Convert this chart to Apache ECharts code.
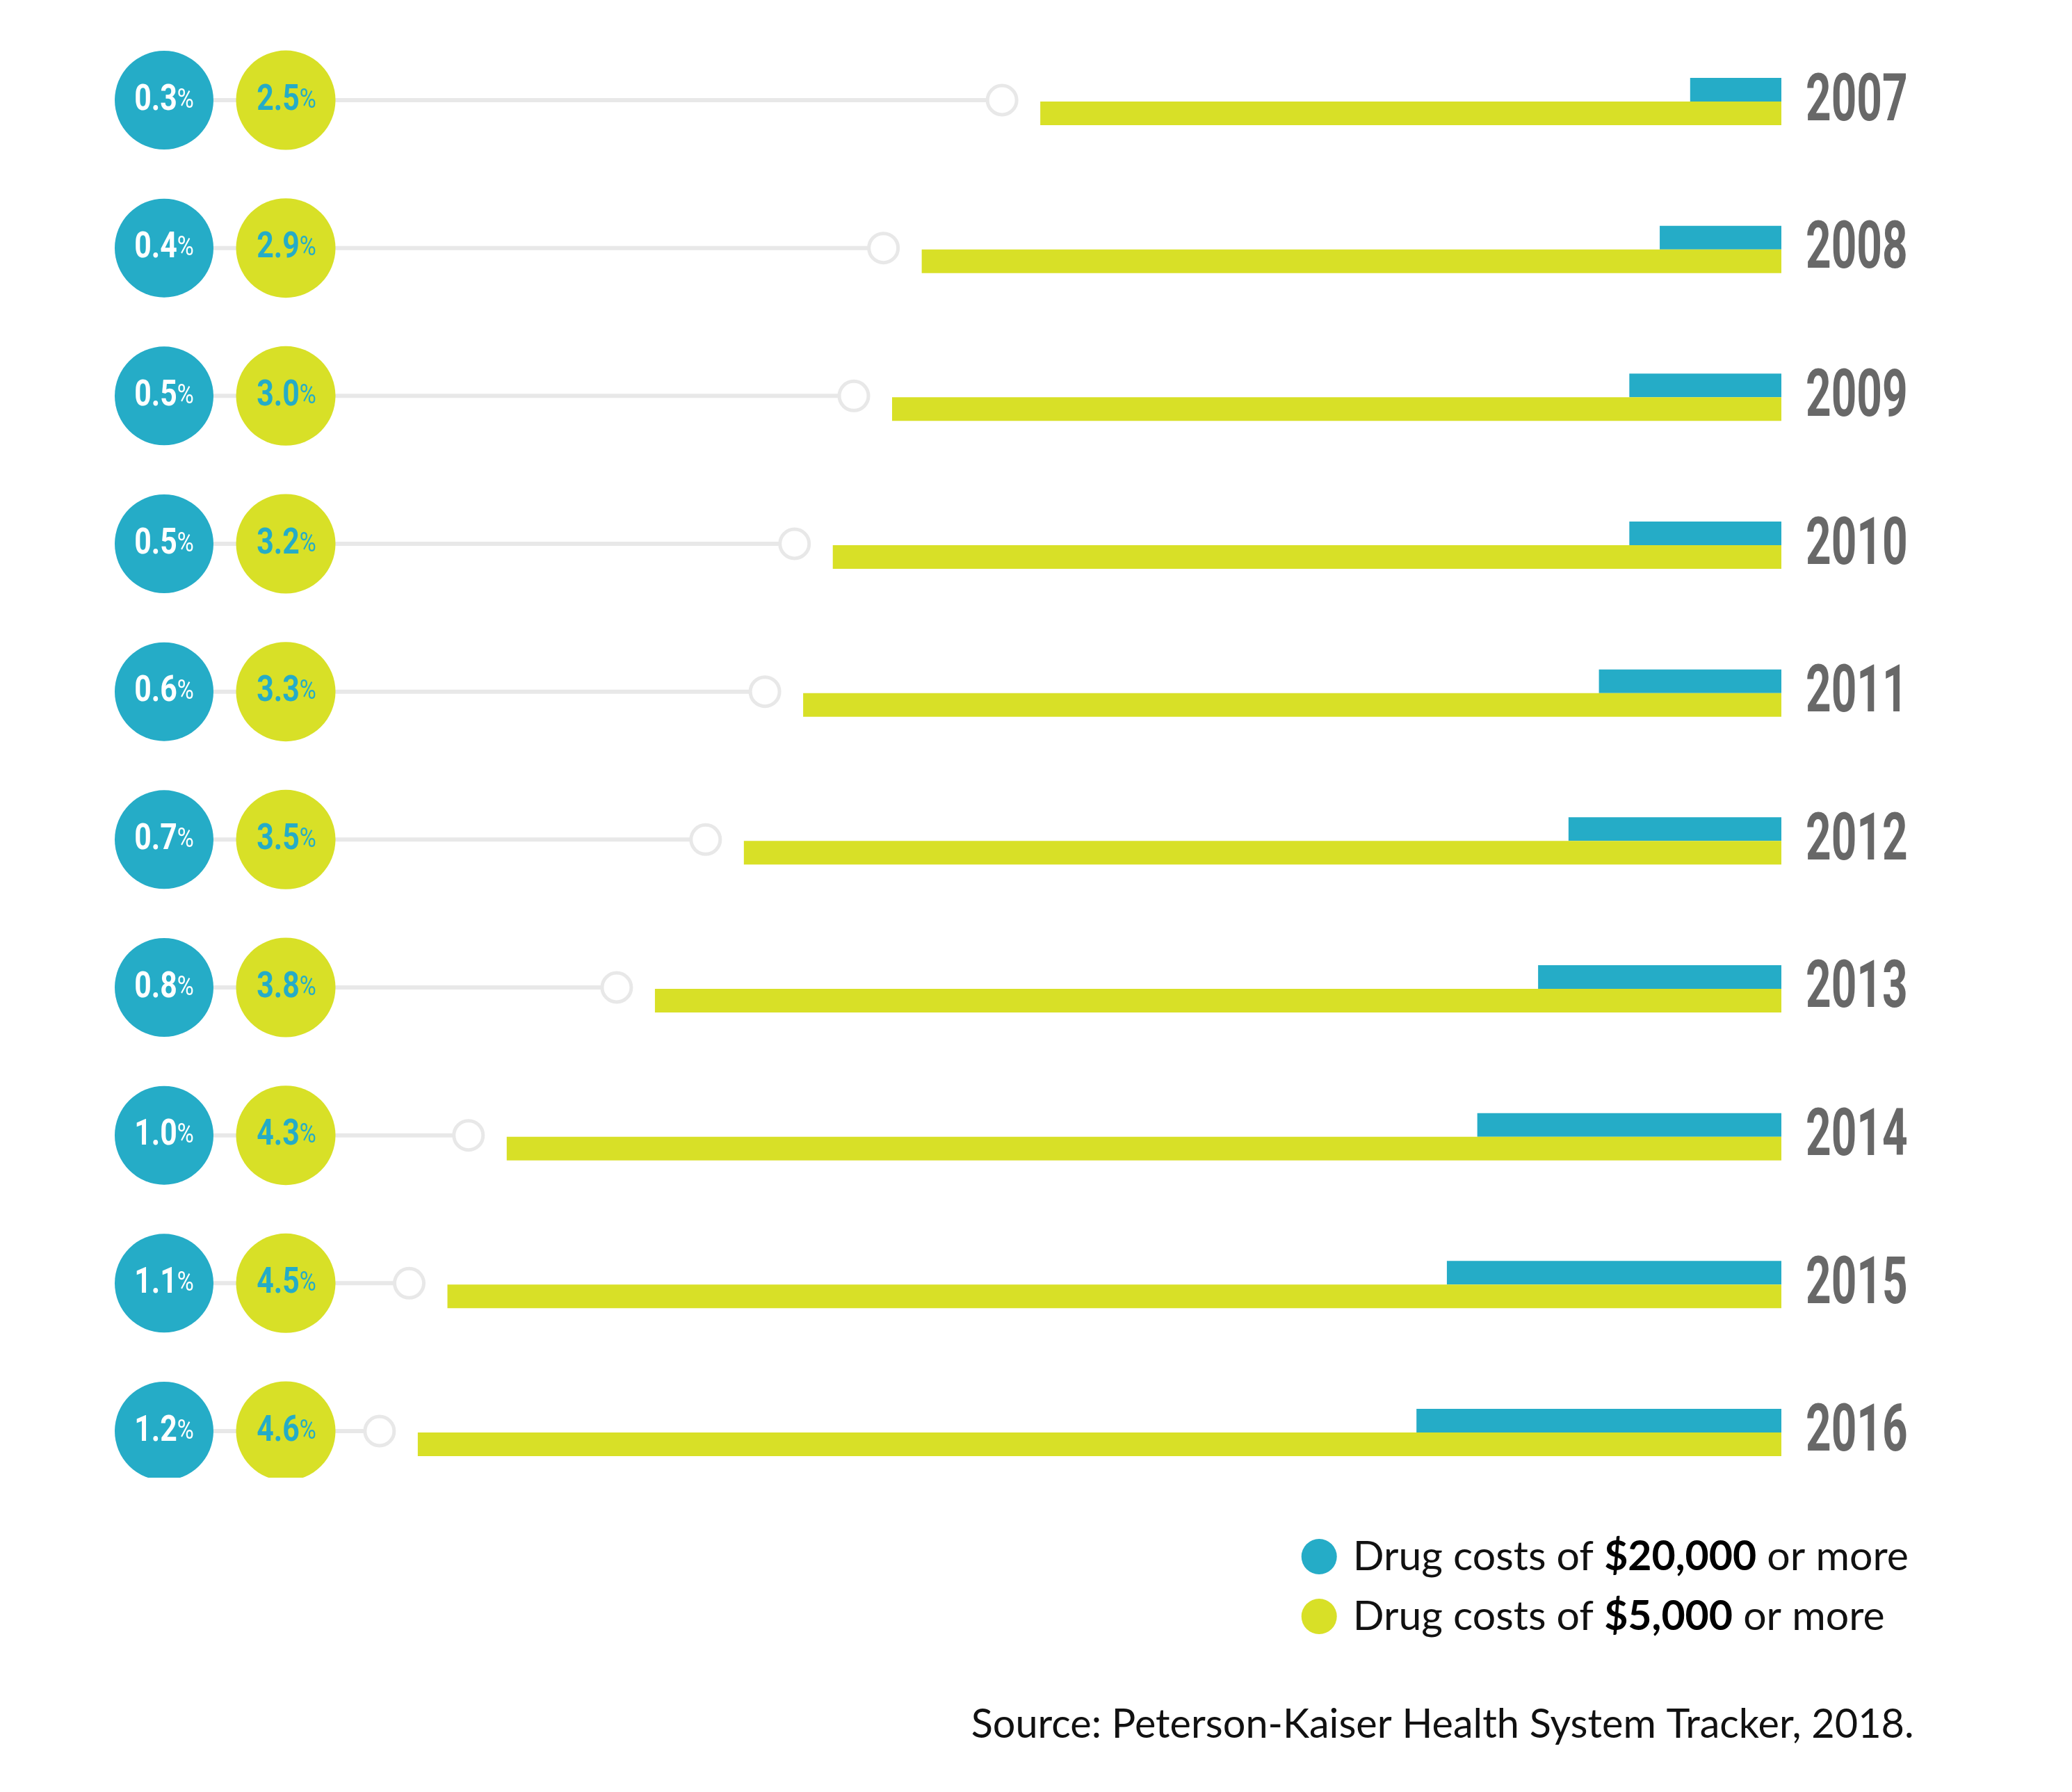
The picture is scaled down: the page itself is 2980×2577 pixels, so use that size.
<!DOCTYPE html>
<html><head><meta charset="utf-8">
<script src="https://cdn.jsdelivr.net/npm/echarts@6/dist/echarts.min.js"></script>
<style>html,body{margin:0;padding:0;background:#fff}#c{width:2980px;height:2577px}</style>
</head><body><div id="c"></div>
<script>
// ---- data ----
const years = ['2007','2008','2009','2010','2011','2012','2013','2014','2015','2016'];
const share20k = [0.3, 0.4, 0.5, 0.5, 0.6, 0.7, 0.8, 1.0, 1.1, 1.2];   // % with drug costs >= $20,000
const share5k  = [2.5, 2.9, 3.0, 3.2, 3.3, 3.5, 3.8, 4.3, 4.5, 4.6];   // % with drug costs >= $5,000
const seriesNames = ['Drug costs of $20,000 or more', 'Drug costs of $5,000 or more'];
const sourceText = 'Source: Peterson-Kaiser Health System Tracker, 2018.';

// ---- styles ----
const BLUE = '#25acc7', YELLOW = '#d8e027', LINE = '#e8e8e8', GRAY = '#686868';

const chart = echarts.init(document.getElementById('c'), null, {renderer: 'canvas'});

function circleLabel(x, y, v, fill) {
  return {
    type: 'text', x: x, y: y, scaleX: 0.84,
    style: {
      text: '{n|' + v.toFixed(1) + '}{p|%}',
      align: 'center', verticalAlign: 'middle',
      rich: {
        n: {fontFamily: 'Roboto', fontWeight: 'bold', fontSize: 51, fill: fill, verticalAlign: 'middle', lineHeight: 60},
        p: {fontFamily: 'Roboto', fontWeight: 'normal', fontSize: 39, fill: fill, verticalAlign: 'middle', lineHeight: 60}
      }
    }
  };
}

const option = {
  backgroundColor: '#fff',
  animation: false,
  grid: {left: 4, right: 418, top: 39.67, bottom: 410.67, containLabel: false},
  xAxis: [
    {type: 'value', inverse: true, min: 0, max: 6, show: false},
    {type: 'value', inverse: true, min: 0, max: 5.849, show: false}
  ],
  yAxis: {type: 'category', inverse: true, data: years, show: false},
  legend: {
    data: seriesNames,
    orient: 'vertical', left: 1866.7, top: 2204,
    icon: 'circle', itemWidth: 51, itemHeight: 51, itemGap: 27,
    selectedMode: false,
    formatter: function (name) {
      return '{r|' + name.replace(/(\$[\d,]+)/, '}{b|$1}{r|') + '}';
    },
    textStyle: {
      padding: [0, 0, 0, 18],
      rich: {
        r: {fontFamily: 'Lato', fontSize: 59, color: '#111', lineHeight: 51},
        b: {fontFamily: 'Lato', fontWeight: 'bold', fontSize: 59, color: '#000', lineHeight: 51}
      }
    }
  },
  graphic: [
    {type: 'text', left: 1396.7, top: 2451, z: 100,
     style: {text: sourceText, fontFamily: 'Lato', fontSize: 57.6, fill: '#111'}},
    {type: 'rect', z: 100, shape: {x: 150, y: 2125, width: 360, height: 70}, style: {fill: '#fff'}}
  ],
  series: [
    {name: seriesNames[0], type: 'bar', xAxisIndex: 1, yAxisIndex: 0, data: share20k,
     barWidth: 34, barGap: '0%', itemStyle: {color: BLUE}, silent: true},
    {name: seriesNames[1], type: 'bar', xAxisIndex: 0, yAxisIndex: 0, data: share5k,
     barWidth: 34, barGap: '0%', itemStyle: {color: YELLOW}, silent: true},
    {
      type: 'custom', xAxisIndex: 0, yAxisIndex: 0, silent: true,
      encode: {x: 1, y: 0},
      data: years.map((y, i) => [i, share5k[i], share20k[i]]),
      renderItem: function (params, api) {
        const i = api.value(0);
        const p = api.coord([api.value(1), i]);
        const right = api.coord([0, i])[0];
        const cy = p[1] - 2;
        const mx = p[0] - 55;
        return {
          type: 'group',
          children: [
            {type: 'line', shape: {x1: 236, y1: cy, x2: mx - 21, y2: cy}, style: {stroke: LINE, lineWidth: 6}},
            {type: 'circle', shape: {cx: mx, cy: cy, r: 21}, style: {fill: '#fff', stroke: LINE, lineWidth: 5}},
            {type: 'circle', shape: {cx: 236, cy: cy, r: 71}, style: {fill: BLUE}},
            {type: 'circle', shape: {cx: 411, cy: cy, r: 71.5}, style: {fill: YELLOW}},
            circleLabel(236, cy + 1, api.value(2), '#ffffff'),
            circleLabel(412, cy + 1, api.value(1), BLUE),
            {type: 'text', x: right + 35, y: p[1] + 3, scaleX: 0.68,
             style: {text: years[i], fontFamily: 'Roboto', fontWeight: 'bold', fontSize: 94,
                     fill: GRAY, align: 'left', verticalAlign: 'middle'}}
          ]
        };
      }
    }
  ]
};
chart.setOption(option);
</script></body></html>
